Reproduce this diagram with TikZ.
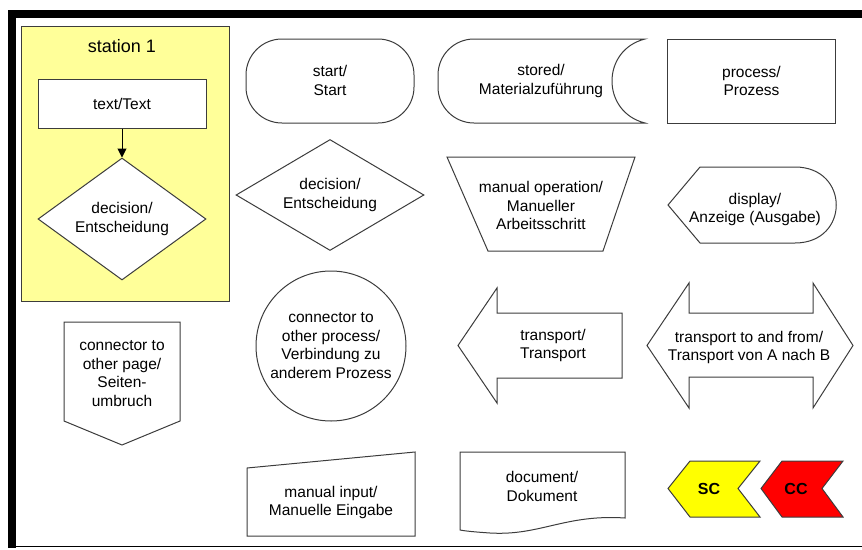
\documentclass[tikz,border=0pt]{standalone}
\usepackage{fontspec}
\setmainfont{Liberation Sans}
\usetikzlibrary{shapes.geometric,arrows.meta}
\definecolor{stationyellow}{RGB}{255,255,153}
\definecolor{edgegray}{RGB}{60,60,60}
\definecolor{scyellow}{RGB}{255,255,0}
\definecolor{ccred}{RGB}{255,0,0}
\tikzset{
  symbol/.style={draw=edgegray, line width=1pt, fill=white, line join=miter},
  txt/.style={align=center, inner sep=0pt, font=\fontsize{15.5}{18.5}\selectfont},
  tagtxt/.style={inner sep=0pt, font=\fontsize{16}{18}\selectfont\bfseries},
}
\begin{document}
\begin{tikzpicture}[x=1pt, y=-1pt]
  \useasboundingbox (0,0) rectangle (862,549);
  % page frame
  \fill[black] (8,10) rectangle (862,18);
  \fill[black] (8,10) rectangle (16,548);
  \draw[black, line width=1.5pt] (8,546.5) -- (862,546.5);

  % station with its own small flow
  \draw[draw=edgegray, line width=1pt, fill=stationyellow] (21,26) rectangle (229,301);
  \node[txt, font=\fontsize{18}{20}\selectfont] (stationT) at (122,46) {station 1};
  \node[symbol, txt, minimum width=168pt, minimum height=49pt] (textbox) at (122,103.5) {text/Text};
  \node[symbol, shape=diamond, minimum width=168pt, minimum height=122pt, inner sep=0pt] (dec1) at (122,219) {};
  \node[txt] (dec1T) at (dec1) {decision/\\Entscheidung};
  \draw[black, line width=1pt, -{Triangle[length=9pt,width=9pt]}] (textbox) -- (dec1);

  % terminal
  \draw[symbol, rounded corners=36pt] (246,39) rectangle (414,123);
  \node[txt] (startT) at (330,80.5) {start/\\Start};

  % stored data
  \draw[symbol] (645,39) [rounded corners=36pt] -- (438,39) -- (438,123) [sharp corners] -- (645,123)
    .. controls (601,112) and (601,50) .. (645,39) -- cycle;
  \node[txt] (storedT) at (541,81) {stored/\\Materialzuführung};

  % process
  \node[symbol, txt, minimum width=168pt, minimum height=84pt] (procT) at (751.5,81) {process/\\Prozess};

  % decision
  \node[symbol, shape=diamond, minimum width=188pt, minimum height=111pt, inner sep=0pt] (dec2) at (330,195) {};
  \node[txt] (dec2T) at (dec2) {decision/\\Entscheidung};

  % manual operation
  \draw[symbol] (447,157) -- (635,157) -- (603,251) -- (488,251) -- cycle;
  \node[txt] (manopT) at (541,205.5) {manual operation/\\Manueller\\Arbeitsschritt};

  % display
  \draw[symbol] (668,205) -- (700,167) -- (795,167) .. controls (850,167) and (850,243) .. (795,243)
    -- (700,243) -- cycle;
  \node[txt] (dispT) at (755,209.5) {display/\\Anzeige (Ausgabe)};

  % off-page connector
  \draw[symbol] (64,322) -- (180,322) -- (180,421) -- (122,445) -- (64,421) -- cycle;
  \node[txt] (pageT) at (122,373.5) {connector to\\other page/\\Seiten-\\umbruch};

  % on-page connector
  \node[symbol, circle, minimum size=150pt, inner sep=0pt] (conn) at (331,346) {};
  \node[txt] (connT) at (331,345.5) {connector to\\other process/\\Verbindung zu\\anderem Prozess};

  % transport
  \draw[symbol] (458,345.5) -- (497,288) -- (497,313) -- (622,313) -- (622,378) -- (497,378)
    -- (497,403) -- cycle;
  \node[txt] (transT) at (553,345.5) {transport/\\Transport};

  % transport in both directions
  \draw[symbol] (647,345.5) -- (689,283) -- (689,313) -- (813,313) -- (813,283) -- (853,345.5)
    -- (813,408) -- (813,377) -- (689,377) -- (689,408) -- cycle;
  \node[txt] (bothT) at (749,347.5) {transport to and from/\\Transport von A nach B};

  % manual input
  \draw[symbol] (247,468) -- (415,452) -- (415,536) -- (247,536) -- cycle;
  \node[txt] (maninT) at (331,502.5) {manual input/\\Manuelle Eingabe};

  % document
  \draw[symbol] (460,452) -- (625,452) -- (625,518) .. controls (565,514) and (540,536) .. (490,533)
    .. controls (475,532) and (465,531) .. (460,530) -- cycle;
  \node[txt] (docT) at (542,486.5) {document/\\Dokument};

  % chevron tags
  \draw[symbol, fill=scyellow] (668,488.5) -- (690,461) -- (760,461) -- (738,488.5) -- (760,517)
    -- (690,517) -- cycle;
  \node[tagtxt] (scT) at (709,488.5) {SC};
  \draw[symbol, fill=ccred] (761,488.5) -- (782,461) -- (843,461) -- (822,488.5) -- (843,517)
    -- (782,517) -- cycle;
  \node[tagtxt] (ccT) at (796,488.5) {CC};
\end{tikzpicture}
\end{document}
